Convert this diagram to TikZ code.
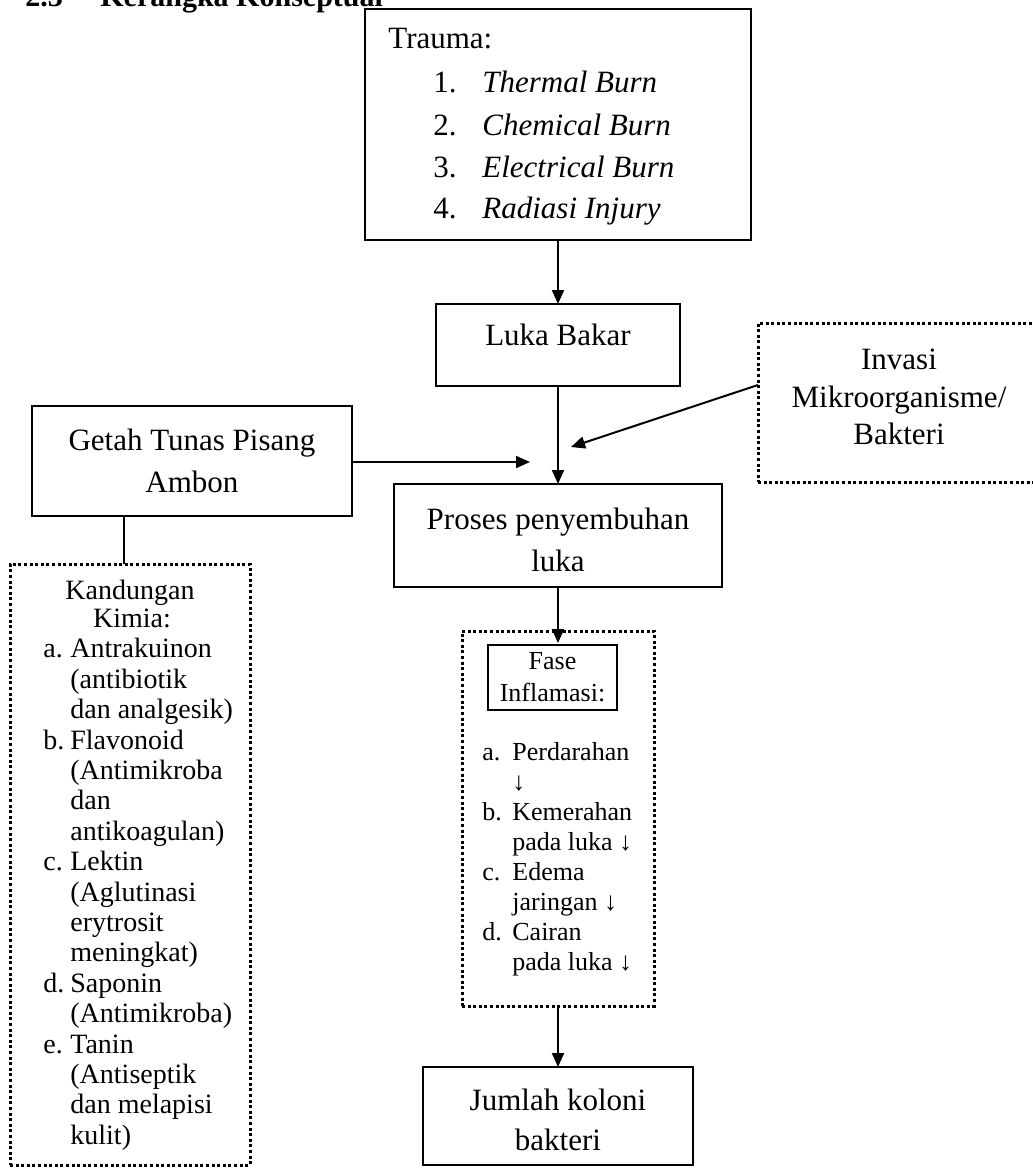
\documentclass[tikz,border=0pt]{standalone}
\usepackage{fontspec}
\setmainfont{Liberation Serif}
\usetikzlibrary{arrows.meta}
\newcommand\klab[1]{\makebox[13.5pt][l]{#1}}
\newcommand\flab[1]{\makebox[15pt][l]{#1}}
\begin{document}
\begin{tikzpicture}[x=0.5pt,y=-0.5pt,
 box/.style={draw,line width=0.8pt,inner sep=0pt,outer sep=0pt},
 dotbox/.style={draw,line width=1.5pt,dash pattern=on 1.5pt off 1.3pt,inner sep=0pt,outer sep=0pt},
 big/.style={font=\fontsize{15.5}{21}\selectfont,inner sep=0pt,align=center},
 small/.style={font=\fontsize{13.5}{15}\selectfont,inner sep=0pt},
 arr/.style={line width=1pt,-{Triangle[length=7pt,width=6pt]}},
 conn/.style={line width=0.8pt}]
\useasboundingbox (0,0) rectangle (1033,1168);

% heading (cut off at the top)
\node[font=\fontsize{15}{18}\selectfont\bfseries,anchor=base west,inner sep=0pt] (hnum) at (25,6) {2.3};
\node[font=\fontsize{15}{18}\selectfont\bfseries,anchor=base west,inner sep=0pt] (htitle) at (100,6) {Kerangka Konseptual};

% boxes
\node[box,minimum width=193pt,minimum height=115.5pt] (trauma) at (558,124.5) {};
\node[box,minimum width=122pt,minimum height=41pt] (luka) at (558,345) {};
\node[box,minimum width=160pt,minimum height=55pt] (getah) at (192,461) {};
\node[box,minimum width=164pt,minimum height=51.5pt] (proses) at (558,535.5) {};
\node[dotbox,minimum width=143.5pt,minimum height=79.5pt] (invasi) at (901.5,402.5) {};
\node[dotbox,minimum width=120pt,minimum height=300.5pt] (kand) at (130,864.5) {};
\node[dotbox,minimum width=96pt,minimum height=187.5pt] (fase) at (558,818.5) {};
\node[box,minimum width=64.5pt,minimum height=32.5pt] (faseT) at (552.5,677.5) {};
\node[box,minimum width=135pt,minimum height=49pt] (jumlah) at (558,1116) {};

% texts
\node[big,anchor=base west] (trT) at (388,48) {Trauma:};
\node[big,anchor=base west] (n1) at (433,92) {1.};
\node[big,anchor=base west] (i1) at (482,92) {\itshape Thermal Burn};
\node[big,anchor=base west] (n2) at (433,135) {2.};
\node[big,anchor=base west] (i2) at (482,135) {\itshape Chemical Burn};
\node[big,anchor=base west] (n3) at (433,177) {3.};
\node[big,anchor=base west] (i3) at (482,177) {\itshape Electrical Burn};
\node[big,anchor=base west] (n4) at (433,218) {4.};
\node[big,anchor=base west] (i4) at (482,218) {\itshape Radiasi Injury};

\node[big] (lukaT) at (558,335) {Luka Bakar};
\node[big] (getahT) at (192,461) {Getah Tunas Pisang\\Ambon};
\node[big] (prosesT) at (558,540) {Proses penyembuhan\\luka};
\node[big,font=\fontsize{15.5}{18.75}\selectfont] (invasiT) at (899,397) {Invasi\\Mikroorganisme/\\Bakteri};
\node[big,font=\fontsize{15.5}{20}\selectfont] (jumlahT) at (558,1120) {Jumlah koloni\\bakteri};

\node[small,font=\fontsize{14}{15}\selectfont] (kandT1) at (130,593) {Kandungan};
\node[small,font=\fontsize{14}{15}\selectfont] (kandT2) at (132,618) {Kimia:};
\node[small,font=\fontsize{14}{15.2}\selectfont,align=left,anchor=north west] (kandL) at (43,638) {%
\klab{a.}Antrakuinon\\\klab{}(antibiotik\\\klab{}dan analgesik)\\%
\klab{b.}Flavonoid\\\klab{}(Antimikroba\\\klab{}dan\\\klab{}antikoagulan)\\%
\klab{c.}Lektin\\\klab{}(Aglutinasi\\\klab{}erytrosit\\\klab{}meningkat)\\%
\klab{d.}Saponin\\\klab{}(Antimikroba)\\%
\klab{e.}Tanin\\\klab{}(Antiseptik\\\klab{}dan melapisi\\\klab{}kulit)};

\node[small,font=\fontsize{13}{16}\selectfont,align=center] (faseTT) at (552.5,677) {Fase\\Inflamasi:};
\node[small,font=\fontsize{13}{15}\selectfont,align=left,anchor=north west] (faseL) at (482,742) {%
\flab{a.}Perdarahan\\\flab{}↓\\\flab{b.}Kemerahan\\\flab{}pada luka ↓\\%
\flab{c.}Edema\\\flab{}jaringan ↓\\\flab{d.}Cairan\\\flab{}pada luka ↓};

% connectors
\coordinate (gtip) at (530,462);
\coordinate (itip) at (571,447);
\coordinate (fasetop) at (558,643);
\draw[arr] (trauma.south) -- (luka.north);
\draw[arr] (luka.south) -- (proses.north);
\draw[arr] (getah.east |- gtip) -- (gtip);
\draw[arr] ([yshift=8.75pt]invasi.west) -- (itip);
\draw[conn] (getah.south -| 124,0) -- (kand.north -| 124,0);
\draw[arr] (proses.south) -- (fasetop);
\draw[arr] (fase.south) -- (jumlah.north);
\end{tikzpicture}
\end{document}
